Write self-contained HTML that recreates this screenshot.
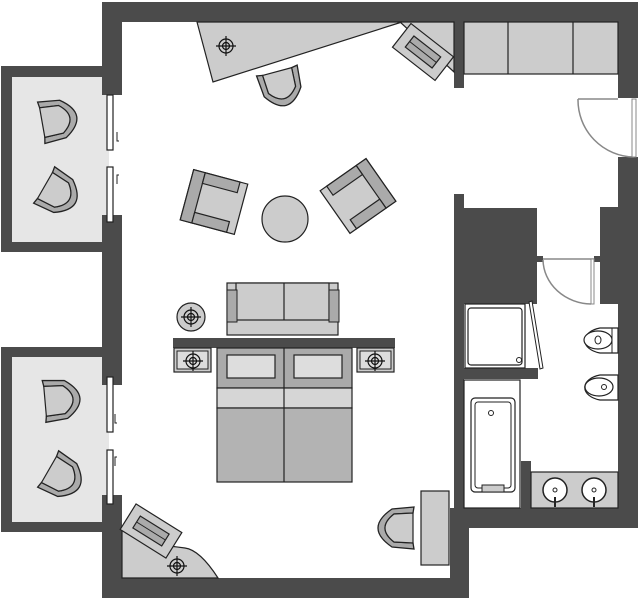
<!DOCTYPE html>
<html><head><meta charset="utf-8"><style>html,body{margin:0;padding:0;background:#fff}svg{display:block}</style></head>
<body>
<svg width="640" height="600" viewBox="0 0 640 600" xmlns="http://www.w3.org/2000/svg">
<defs>
<g id="chair">
<path d="M-21,-16 L-19,6 Q0,34 19,6 L21,-16 L15,-15 L14,4 Q0,22 -14,4 L-15,-15 Z" fill="#aaa" stroke="#222" stroke-width="1.3"/>
<path d="M-15,-15 L15,-15 L14,4 Q0,22 -14,4 Z" fill="#ccc" stroke="#222" stroke-width="1.2"/>
</g>
<g id="xh" stroke="#111" stroke-width="1.2" fill="none">
<circle r="7"/><circle r="3.5"/><line x1="-10" y1="0" x2="10" y2="0"/><line x1="0" y1="-10" x2="0" y2="10"/>
</g>
<g id="arm">
<rect x="-28" y="-26" width="56" height="52" fill="#ccc" stroke="#222" stroke-width="1.2"/>
<rect x="-28" y="-26" width="12" height="52" fill="#aaa" stroke="#222" stroke-width="1.2"/>
<rect x="-16" y="-26" width="36" height="11" fill="#aaa" stroke="#222" stroke-width="1.2"/>
<rect x="-16" y="15" width="36" height="11" fill="#aaa" stroke="#222" stroke-width="1.2"/>
</g>
<g id="tv">
<rect x="-27" y="-15" width="54" height="30" fill="#ccc" stroke="#222" stroke-width="1.2"/>
<rect x="-17" y="-7" width="34" height="14" fill="#aaa" stroke="#222" stroke-width="1.2"/>
<line x1="-17" y1="0" x2="17" y2="0" stroke="#222"/>
</g>
</defs>
<g fill="#4b4b4b">
<!-- outer walls -->
<rect x="102" y="2" width="536" height="20"/>
<rect x="102" y="2" width="20" height="93"/>
<rect x="102" y="215" width="20" height="170"/>
<rect x="102" y="495" width="20" height="103"/>
<rect x="102" y="578" width="367" height="20"/>
<rect x="450" y="508" width="19" height="90"/>
<rect x="450" y="508" width="188" height="20"/>
<rect x="618" y="2" width="20" height="96"/>
<rect x="618" y="157" width="20" height="371"/>
<!-- balconies -->
<rect x="1" y="66" width="101" height="186"/>
<rect x="1" y="347" width="101" height="185"/>
<!-- interior -->
<rect x="454" y="22" width="10" height="66"/>
<rect x="454" y="194" width="10" height="314"/>
<rect x="454" y="208" width="83" height="96"/>
<rect x="600" y="207" width="20" height="97"/>
<rect x="537" y="256" width="6" height="6"/>
<rect x="594" y="256" width="6" height="6"/>
<rect x="464" y="368" width="74" height="11"/>
<rect x="521" y="461" width="10" height="47"/>
</g>
<rect x="12" y="77" width="90" height="165" fill="#e6e6e6"/>
<rect x="12" y="357" width="90" height="165" fill="#e6e6e6"/>
<rect x="102" y="95" width="20" height="120" fill="#fff"/>
<rect x="102" y="385" width="20" height="110" fill="#fff"/>
<rect x="102" y="95" width="7" height="120" fill="#e6e6e6"/>
<rect x="102" y="385" width="7" height="110" fill="#e6e6e6"/>
<g fill="#fff" stroke="#222" stroke-width="1.2">
<rect x="107" y="95" width="6" height="55"/><rect x="107" y="167" width="6" height="55"/>
<rect x="107" y="377" width="6" height="55"/><rect x="107" y="450" width="6" height="54"/>
</g>
<g stroke="#222" stroke-width="1" fill="none">
<path d="M117,132 v9 h2"/><path d="M117,184 v-9 h2"/><path d="M115,414 v9 h2"/><path d="M115,466 v-9 h2"/>
</g>
<!-- closet -->
<rect x="464" y="22" width="154" height="52" fill="#ccc" stroke="#222" stroke-width="1.2"/>
<line x1="508" y1="22" x2="508" y2="74" stroke="#222" stroke-width="1.2"/>
<line x1="573" y1="22" x2="573" y2="74" stroke="#222" stroke-width="1.2"/>
<!-- entrance door -->
<path d="M578,99 A57,57 0 0 0 634,157" fill="none" stroke="#888" stroke-width="1.5"/>
<line x1="578" y1="99" x2="618" y2="99" stroke="#888" stroke-width="1.5"/>
<rect x="632" y="99" width="4" height="58" fill="#fff" stroke="#888"/>
<!-- bath door -->
<line x1="543" y1="259" x2="594" y2="259" stroke="#888" stroke-width="1.5"/>
<rect x="591" y="259" width="3" height="45" fill="#fff" stroke="#888"/>
<path d="M543,260 A49,45 0 0 0 591,304" fill="none" stroke="#888" stroke-width="1.5"/>
<!-- top desk -->
<polygon points="197,22 402,22 213,82" fill="#ccc" stroke="#222" stroke-width="1.2"/>
<polygon points="400,22 454,22 454,72" fill="#ccc" stroke="#222" stroke-width="1.2"/>
<use href="#xh" x="226" y="46"/>
<use href="#tv" transform="translate(423,52) rotate(38)"/>
<use href="#chair" transform="translate(281,86) rotate(-15)"/>
<!-- balcony chairs -->
<use href="#chair" transform="translate(57,120) rotate(-100)"/>
<use href="#chair" transform="translate(58,193) rotate(-60)"/>
<use href="#chair" transform="translate(60,400) rotate(-95)"/>
<use href="#chair" transform="translate(62,477) rotate(-60)"/>
<!-- armchairs & table -->
<use href="#arm" transform="translate(214,202) rotate(15)"/>
<use href="#arm" transform="translate(358,196) rotate(-35) scale(-1,1)"/>
<circle cx="285" cy="219" r="23" fill="#ccc" stroke="#222" stroke-width="1.2"/>
<!-- sofa -->
<rect x="227" y="283" width="111" height="52" fill="#ccc" stroke="#222" stroke-width="1.2"/>
<rect x="236" y="283" width="93" height="37" fill="#ccc" stroke="#222" stroke-width="1.2"/>
<line x1="284" y1="283" x2="284" y2="320" stroke="#222" stroke-width="1.2"/>
<rect x="227" y="290" width="10" height="32" fill="#aaa" stroke="#222"/>
<rect x="329" y="290" width="10" height="32" fill="#aaa" stroke="#222"/>
<circle cx="191" cy="317" r="14" fill="#ccc" stroke="#222" stroke-width="1.2"/>
<use href="#xh" x="191" y="317"/>
<!-- headboard & nightstands -->
<rect x="173" y="338" width="222" height="10" fill="#4b4b4b"/>
<rect x="174" y="348" width="37" height="24" fill="#ccc" stroke="#222" stroke-width="1.2"/>
<rect x="177" y="351" width="31" height="18" fill="#ddd" stroke="#222"/>
<use href="#xh" x="193" y="361"/>
<rect x="357" y="348" width="37" height="24" fill="#ccc" stroke="#222" stroke-width="1.2"/>
<rect x="360" y="351" width="31" height="18" fill="#ddd" stroke="#222"/>
<use href="#xh" x="375" y="361"/>
<!-- bed -->
<rect x="217" y="348" width="135" height="40" fill="#aaa" stroke="#222" stroke-width="1.2"/>
<rect x="227" y="355" width="48" height="23" fill="#ddd" stroke="#222" stroke-width="1.2"/>
<rect x="294" y="355" width="48" height="23" fill="#ddd" stroke="#222" stroke-width="1.2"/>
<rect x="217" y="388" width="135" height="20" fill="#d6d6d6" stroke="#222" stroke-width="1.2"/>
<rect x="217" y="408" width="135" height="74" fill="#b3b3b3" stroke="#222" stroke-width="1.2"/>
<line x1="284" y1="348" x2="284" y2="482" stroke="#222" stroke-width="1.2"/>
<!-- bottom-left desk -->
<path d="M122,530 L122,578 L218,578 Q200,550 185,548 Q170,546 160,545 Z" fill="#ccc" stroke="#222" stroke-width="1.2"/>
<use href="#tv" transform="translate(151,531) rotate(32)"/>
<use href="#xh" x="177" y="566"/>
<!-- bottom-right desk and chair -->
<rect x="421" y="491" width="28" height="74" fill="#ccc" stroke="#222" stroke-width="1.2"/>
<use href="#chair" transform="translate(398,528) rotate(90)"/>
<!-- shower -->
<rect x="465" y="304" width="60" height="64" fill="#fff" stroke="#222" stroke-width="1.2"/>
<rect x="468" y="308" width="54" height="57" rx="3" fill="#fff" stroke="#222" stroke-width="1.2"/>
<circle cx="519" cy="360" r="2.5" fill="none" stroke="#222"/>
<polygon points="529,302 532,301 543,368 540,369" fill="#fff" stroke="#222"/>
<!-- bathtub -->
<rect x="464" y="380" width="56" height="128" fill="#fff" stroke="#222" stroke-width="1.2"/>
<rect x="471" y="398" width="44" height="94" rx="4" fill="#fff" stroke="#222" stroke-width="1.2"/>
<rect x="475" y="402" width="36" height="86" rx="3" fill="#fff" stroke="#222" stroke-width="1"/>
<rect x="482" y="485" width="22" height="7" fill="#ccc" stroke="#222"/>
<circle cx="491" cy="413" r="2.5" fill="none" stroke="#222"/>
<!-- vanity -->
<rect x="531" y="472" width="87" height="36" fill="#ccc" stroke="#222" stroke-width="1.2"/>
<circle cx="555" cy="490" r="12" fill="#fff" stroke="#222" stroke-width="1.5"/>
<circle cx="594" cy="490" r="12" fill="#fff" stroke="#222" stroke-width="1.5"/>
<circle cx="555" cy="490" r="2" fill="none" stroke="#222"/>
<circle cx="594" cy="490" r="2" fill="none" stroke="#222"/>
<line x1="555" y1="497" x2="555" y2="507" stroke="#222" stroke-width="2"/>
<line x1="594" y1="497" x2="594" y2="507" stroke="#222" stroke-width="2"/>
<!-- toilet, bidet -->
<path d="M618,328 L613,328 L600,328 A21,13 0 0 0 600,353 L613,353 L618,353 Z" fill="#fff" stroke="#222" stroke-width="1.2"/>
<ellipse cx="598" cy="340" rx="14" ry="9" fill="#fff" stroke="#222" stroke-width="1.2"/>
<line x1="612" y1="328" x2="612" y2="353" stroke="#222"/>
<ellipse cx="598" cy="340" rx="3" ry="4" fill="none" stroke="#222"/>
<path d="M618,375 L600,375 A21,13 0 0 0 600,400 L618,400 Z" fill="#fff" stroke="#222" stroke-width="1.2"/>
<ellipse cx="599" cy="387" rx="14" ry="9" fill="#fff" stroke="#222" stroke-width="1.2"/>
<circle cx="604" cy="387" r="2.5" fill="none" stroke="#222"/>
</svg>
</body></html>
